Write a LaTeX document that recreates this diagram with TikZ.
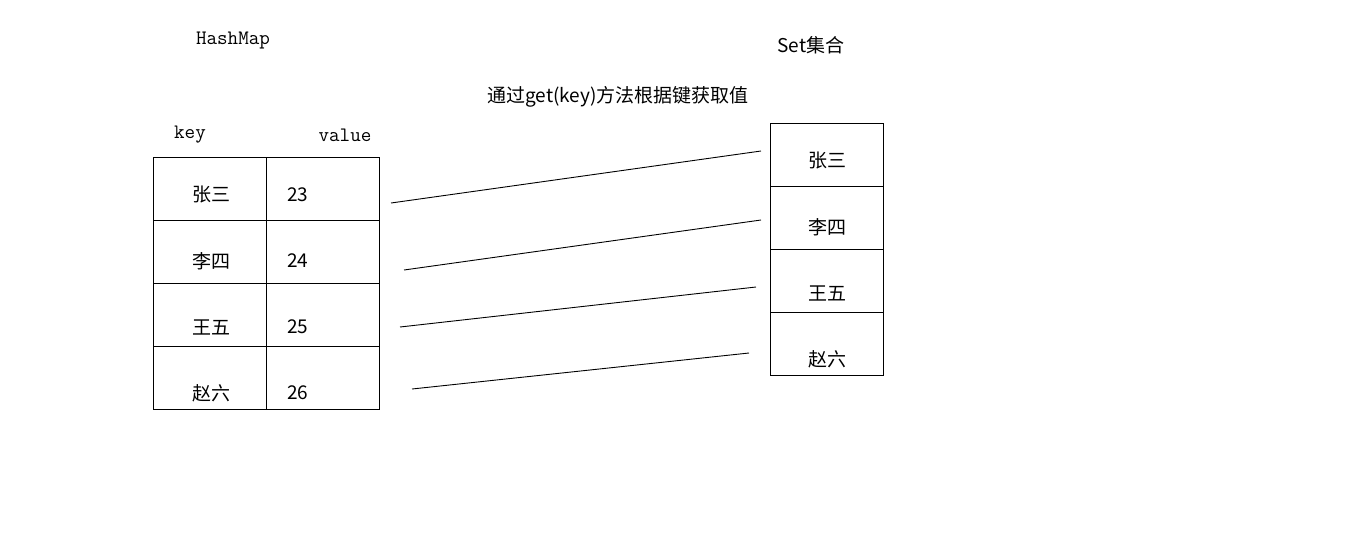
\documentclass[tikz,border=0pt]{standalone}
\usepackage{fontspec}
\setmainfont{Noto Sans CJK SC}
\newfontfamily\monof{Latin Modern Mono}
\begin{document}
\begin{tikzpicture}[x=1pt,y=-1pt,
  cell/.style={draw,line width=0.9pt,minimum width=113pt,minimum height=63pt,inner sep=0pt,anchor=north west},
  txt/.style={font=\fontsize{19}{22}\selectfont,inner sep=0pt},
  mono/.style={font=\monof\fontsize{20.5}{22}\selectfont,inner sep=0pt},
  link/.style={line width=0.9pt}]
\useasboundingbox[fill=white] (0,0) rectangle (1357,539);
% left table
\foreach \i [count=\n from 0] in {1,2,3,4}{
  \node[cell] (k\i) at (153,{157+63*\n}) {};
  \node[cell] (v\i) at (266,{157+63*\n}) {};
}
\node[txt] (k1t) at (211,195) {张三};
\node[txt] (k2t) at (211,261) {李四};
\node[txt] (k3t) at (211,327) {王五};
\node[txt] (k4t) at (211,393) {赵六};
\node[txt,anchor=west] (v1t) at (287,195) {23};
\node[txt,anchor=west] (v2t) at (287,261) {24};
\node[txt,anchor=west] (v3t) at (287,327) {25};
\node[txt,anchor=west] (v4t) at (287,393) {26};
% right table
\foreach \i [count=\n from 0] in {1,2,3,4}{
  \node[cell] (s\i) at (770,{123+63*\n}) {};
}
\node[txt] (s1t) at (827,161) {张三};
\node[txt] (s2t) at (827,227) {李四};
\node[txt] (s3t) at (827,293) {王五};
\node[txt] (s4t) at (827,359) {赵六};
% labels
\node[mono] (hm) at (233,41) {HashMap};
\node[mono] (key) at (190,135) {key};
\node[mono] (val) at (345,135) {value};
\node[txt] (set) at (811,45) {Set集合};
\node[txt] (get) at (618,97) {通过get(key)方法根据键获取值};
% connector ends
\coordinate (a1) at (391,203); \coordinate (b1) at (761,151);
\coordinate (a2) at (404,270); \coordinate (b2) at (761,220);
\coordinate (a3) at (400,327); \coordinate (b3) at (756,287);
\coordinate (a4) at (412,389); \coordinate (b4) at (749,353);
\foreach \i in {1,2,3,4}{\draw[link] (a\i) -- (b\i);}
\end{tikzpicture}
\end{document}
